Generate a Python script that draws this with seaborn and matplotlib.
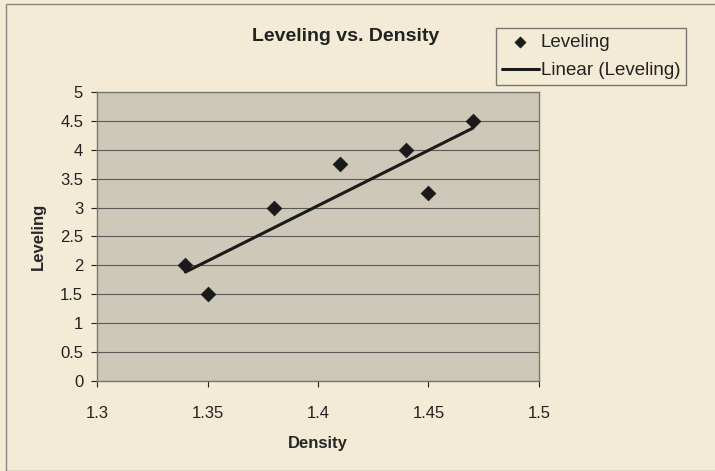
import numpy as np
import pandas as pd
import seaborn as sns
import matplotlib.pyplot as plt
from matplotlib.patches import Rectangle

density = [1.34, 1.35, 1.38, 1.41, 1.44, 1.45, 1.47]
leveling = [2.0, 1.5, 3.0, 3.75, 4.0, 3.25, 4.5]

df = pd.DataFrame({"Density": density, "Leveling": leveling})

# linear trend line, like Excel's "Linear (Leveling)"
slope, intercept = np.polyfit(df["Density"], df["Leveling"], 1)
trend = pd.DataFrame({"Density": [min(density), max(density)]})
trend["Leveling"] = slope * trend["Density"] + intercept

sns.set_style("white")
plt.rcParams['font.family'] = ['Liberation Sans', 'DejaVu Sans']

bg = "#f3ebd5"
fig = plt.figure(figsize=(7.15, 4.71), dpi=100, facecolor=bg)
ax = fig.add_axes([0.1357, 0.1911, 0.6181, 0.6136])
ax.set_facecolor("#cdc8b8")

fig.patches.append(Rectangle((6 / 715, 0), 1.2, 1 - 4 / 471, transform=fig.transFigure,
                             fill=False, edgecolor="#888880", linewidth=1))

sns.lineplot(data=trend, x="Density", y="Leveling", ax=ax, color="#1a1a1a",
             linewidth=2.2, label="Linear (Leveling)", zorder=3)
sns.scatterplot(data=df, x="Density", y="Leveling", ax=ax, marker="D", s=55,
                color="#1a1a1a", edgecolor="#1a1a1a", label="Leveling", zorder=4)

ax.set_xlim(1.3, 1.5)
ax.set_ylim(0, 5)
ax.set_xticks([1.3, 1.35, 1.4, 1.45, 1.5])
ax.set_xticklabels(["1.3", "1.35", "1.4", "1.45", "1.5"])
ax.set_yticks(np.arange(0, 5.01, 0.5))
ax.set_yticklabels(["0", "0.5", "1", "1.5", "2", "2.5", "3", "3.5", "4", "4.5", "5"])
ax.grid(axis="y", color="#5a5a55", linewidth=0.8)
ax.set_axisbelow(True)
for side in ax.spines.values():
    side.set_color("#777770")
    side.set_linewidth(1)

ax.tick_params(axis="both", labelsize=12, colors="#222222", length=4, direction="out",
               left=True, bottom=True, pad=6)
ax.tick_params(axis="x", pad=14)
ax.set_xlabel("Density", fontsize=12, fontweight="bold", labelpad=11)
ax.set_ylabel("Leveling", fontsize=12, fontweight="bold", labelpad=10)

fig.text(0.483, 0.922, "Leveling vs. Density", ha="center", va="center",
         fontsize=14, fontweight="bold", color="#222222")

handles, labels = ax.get_legend_handles_labels()
order = [labels.index("Leveling"), labels.index("Linear (Leveling)")]
leg = ax.legend([handles[i] for i in order], [labels[i] for i in order],
                loc="upper left", bbox_to_anchor=(496 / 715, 1 - 28 / 471),
                bbox_transform=fig.transFigure, fontsize=13.5, frameon=True,
                fancybox=False, framealpha=1, facecolor=bg, edgecolor="#777770",
                handlelength=2.0, handletextpad=0.1, borderpad=0.3, labelspacing=0.6,
                borderaxespad=0, markerscale=0.75)
leg._legend_box.sep = 0
for t in leg.get_texts():
    t.set_color("#222222")

fig.savefig("out.png", dpi=100, facecolor=bg)
